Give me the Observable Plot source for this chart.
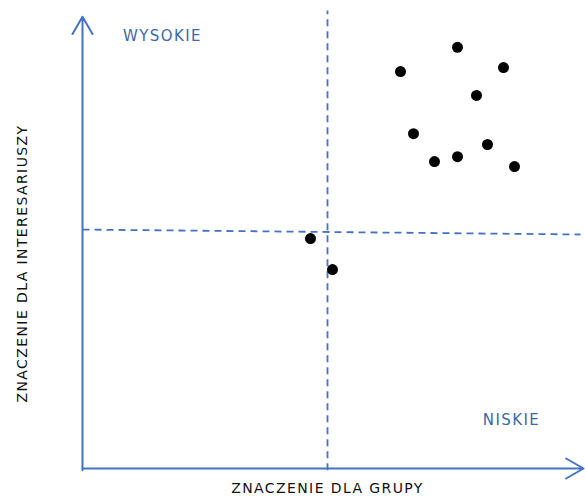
<!DOCTYPE html>
<html>
<head>
<meta charset="utf-8">
<script src="https://cdn.jsdelivr.net/npm/d3@7"></script>
<script src="https://cdn.jsdelivr.net/npm/@observablehq/plot@0.6"></script>
<style>
  html, body { margin: 0; padding: 0; background: #fff; }
  svg { display: block; }
  svg text { letter-spacing: 1.4px; }
</style>
</head>
<body>
<div id="chart"></div>
<script>
// Points (importance for group, importance for stakeholders), 0–100 scale
const groupImportance = [63.6, 75, 84.2, 78.8, 66.2, 70.4, 75, 81, 86.4, 45.6, 50];
const stakeholderImportance = [88.2, 93.6, 89.1, 82.9, 74.4, 68.2, 69.3, 72, 67.1, 51.1, 44.2];

// Quadrant divider lines
const dividerV = {x1: 49, y1: -0.4, x2: 49, y2: 101.8};
const dividerH = {x1: 0, y1: 53.1, x2: 99.6, y2: 52.0};

// Axis arrows
const axisArrows = [
  {x1: 0, y1: 0, x2: 100.2, y2: 0},
  {x1: 0, y1: -0.4, x2: 0, y2: 100.4}
];

// Quadrant labels
const quadrantLabels = [
  {x: 16, y: 96, text: "WYSOKIE"},
  {x: 85.8, y: 10.7, text: "NISKIE"}
];
const xTitle = "ZNACZENIE DLA GRUPY";
const yTitle = "ZNACZENIE DLA INTERESARIUSZY";

const points = groupImportance.map((g, i) => ({x: g, y: stakeholderImportance[i]}));

const blue = "#4472C4";
const labelBlue = "#3F67A8";

const chart = Plot.plot({
  width: 585,
  height: 502,
  marginLeft: 82,
  marginRight: 3,
  marginTop: 18,
  marginBottom: 34,
  x: {domain: [0, 100], axis: null},
  y: {domain: [0, 100], axis: null},
  style: {fontFamily: "DejaVu Sans, Verdana, sans-serif", background: "#fff"},
  marks: [
    Plot.link([dividerV, dividerH], {
      x1: "x1", y1: "y1", x2: "x2", y2: "y2",
      stroke: blue, strokeWidth: 1.8, strokeDasharray: "7,5"
    }),
    Plot.arrow(axisArrows, {
      x1: "x1", y1: "y1", x2: "x2", y2: "y2",
      stroke: blue, strokeWidth: 2, headLength: 15, headAngle: 60, bend: 0
    }),
    Plot.dot(points, {x: "x", y: "y", r: 5.5, fill: "black", stroke: "none"}),
    Plot.text(quadrantLabels, {
      x: "x", y: "y", text: "text", fill: labelBlue, fontSize: 15
    }),
    Plot.text([xTitle], {
      frameAnchor: "bottom", textAnchor: "middle", dx: -5, dy: 24, fontSize: 14, fill: "#111"
    }),
    Plot.text([yTitle], {
      frameAnchor: "left", textAnchor: "middle", dx: -60, dy: 20, rotate: -90, fontSize: 14, fill: "#111"
    })
  ]
});

document.getElementById("chart").appendChild(chart);
</script>
</body>
</html>
